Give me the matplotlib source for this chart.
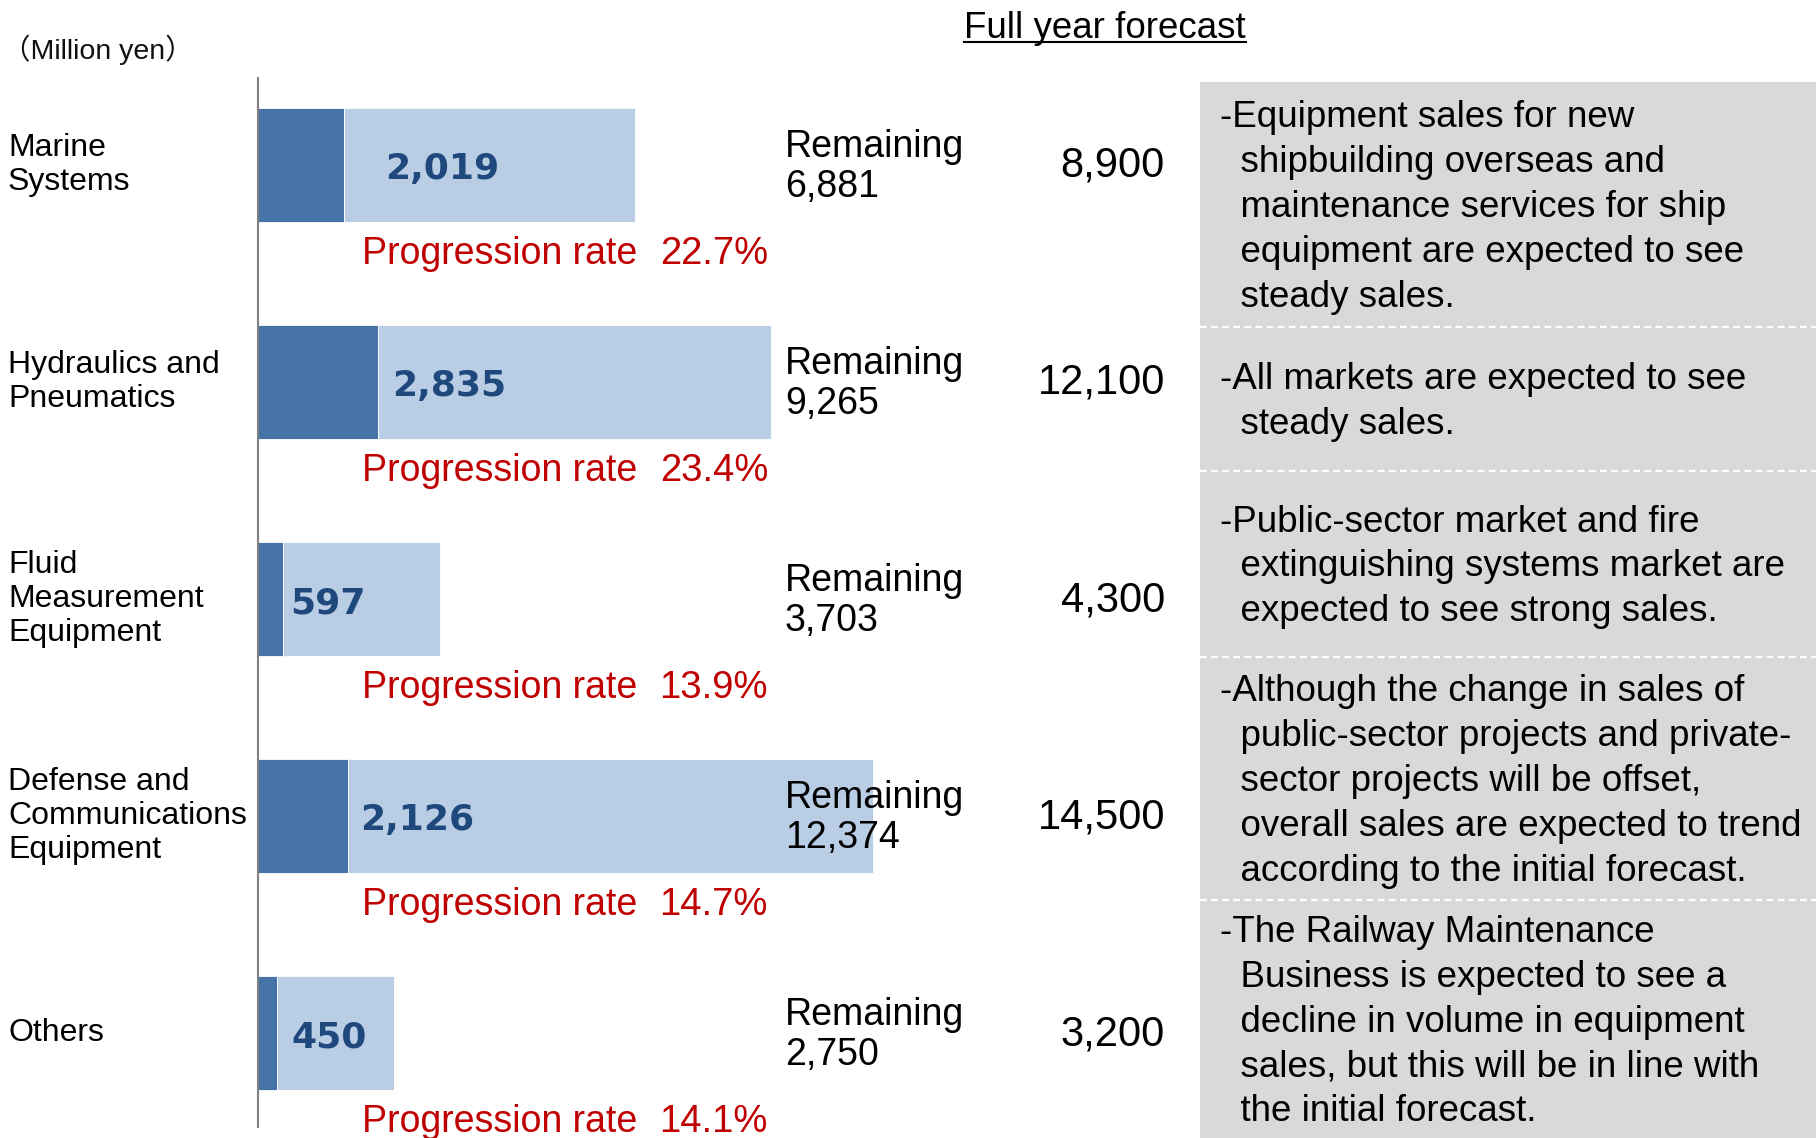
import matplotlib
matplotlib.use("Agg")
import matplotlib.pyplot as plt
import matplotlib.transforms as mtransforms
from matplotlib.patches import Rectangle
from matplotlib.lines import Line2D

# values in million yen
segments = ["Marine\nSystems", "Hydraulics and\nPneumatics",
            "Fluid\nMeasurement\nEquipment",
            "Defense and\nCommunications\nEquipment", "Others"]
achieved = [2019, 2835, 597, 2126, 450]
remaining = [6881, 9265, 3703, 12374, 2750]
forecast = [8900, 12100, 4300, 14500, 3200]
progress = [22.7, 23.4, 13.9, 14.7, 14.1]
comments = [
    "-Equipment sales for new\n  shipbuilding overseas and\n  maintenance services for ship\n"
    "  equipment are expected to see\n  steady sales.",
    "-All markets are expected to see\n  steady sales.",
    "-Public-sector market and fire\n  extinguishing systems market are\n"
    "  expected to see strong sales.",
    "-Although the change in sales of\n  public-sector projects and private-\n"
    "  sector projects will be offset,\n  overall sales are expected to trend\n"
    "  according to the initial forecast.",
    "-The Railway Maintenance\n  Business is expected to see a\n  decline in volume in equipment\n"
    "  sales, but this will be in line with\n  the initial forecast.",
]

W, H = 1816, 1138
DARK = "#4673A8"
LIGHT = "#B9CDE5"
NAVY = "#1F497D"
RED = "#C00000"
FONT = ["Liberation Sans", "Noto Sans CJK JP", "DejaVu Sans"]

plt.rcParams["font.family"] = FONT

fig = plt.figure(figsize=(W / 100, H / 100), dpi=100)


def fx(x):
    return x / W


def fy(y):
    return 1 - y / H


# bar axes: left spine at x=258px, 0.0424 px per million yen
ax_left, ax_right = 258, 1190
ax = fig.add_axes([fx(ax_left), fy(1127), fx(ax_right - ax_left), (1127 - 78) / H])
ax.set_xlim(0, (ax_right - ax_left) / 0.0424)
ax.set_ylim(4.433, -0.40)

ypos = list(range(len(segments)))
ax.barh(ypos, achieved, height=0.523, color=DARK, edgecolor="white", linewidth=0.6)
ax.barh(ypos, remaining, left=achieved, height=0.523, color=LIGHT,
        edgecolor="white", linewidth=0.6)

for s in ["top", "right", "bottom"]:
    ax.spines[s].set_visible(False)
ax.spines["left"].set_color("#808080")
ax.spines["left"].set_linewidth(1.5)
ax.set_xticks([])
ax.set_yticks([])

label_pad = [42, 14, 7, 12, 14]  # px right of the dark part
for i in ypos:
    ax.annotate(f"{achieved[i]:,}", xy=(achieved[i], i + 0.02),
                xytext=(label_pad[i] * 0.72, 0), textcoords="offset points",
                ha="left", va="center", fontsize=26, fontweight="bold",
                color=NAVY, family="DejaVu Sans")

row = mtransforms.blended_transform_factory(fig.transFigure, ax.transData)
for i in ypos:
    fig.text(fx(8), i, segments[i], transform=row, ha="left", va="center",
             fontsize=23, linespacing=1.18)
    fig.text(fx(362), i + 0.41, "Progression rate", transform=row,
             ha="left", va="center", fontsize=27, color=RED)
    fig.text(fx(768), i + 0.41, f"{progress[i]:.1f}%", transform=row,
             ha="right", va="center", fontsize=27.5, color=RED)
    fig.text(fx(785), i + 0.01, f"Remaining\n{remaining[i]:,}", transform=row,
             ha="left", va="center", fontsize=27, linespacing=1.13)
    fig.text(fx(1165), i + 0.005, f"{forecast[i]:,}", transform=row,
             ha="right", va="center", fontsize=30)

# comment panel
fig.patches.append(Rectangle((fx(1200), 0), fx(W - 1200), fy(82), transform=fig.transFigure,
                             facecolor="#D9D9D9", edgecolor="none", zorder=0))
bounds = [82, 327, 471, 657, 900, 1138]
for b in bounds[1:-1]:
    fig.add_artist(Line2D([fx(1200), 1], [fy(b), fy(b)], transform=fig.transFigure,
                          color="white", linewidth=1.6, linestyle=(0, (3, 2))))
for k, text in enumerate(comments):
    yc = (bounds[k] + bounds[k + 1]) / 2 + 3
    fig.text(fx(1220), fy(yc), text, ha="left", va="center", fontsize=26.5,
             linespacing=1.37)

fig.text(fx(2), fy(50), "（Million yen）", ha="left", va="center", fontsize=20.5,
         color="#111111")

title = fig.text(fx(1105), fy(38.5), "Full year forecast", ha="center",
                 va="baseline", fontsize=26.5)
fig.canvas.draw()
bb = title.get_window_extent(renderer=fig.canvas.get_renderer())
base = H * fy(38.5) - 3
fig.add_artist(Line2D([bb.x0 / W, bb.x1 / W], [base / H, base / H],
                      transform=fig.transFigure, color="black", linewidth=1.5))

fig.savefig("out.png", dpi=100)
